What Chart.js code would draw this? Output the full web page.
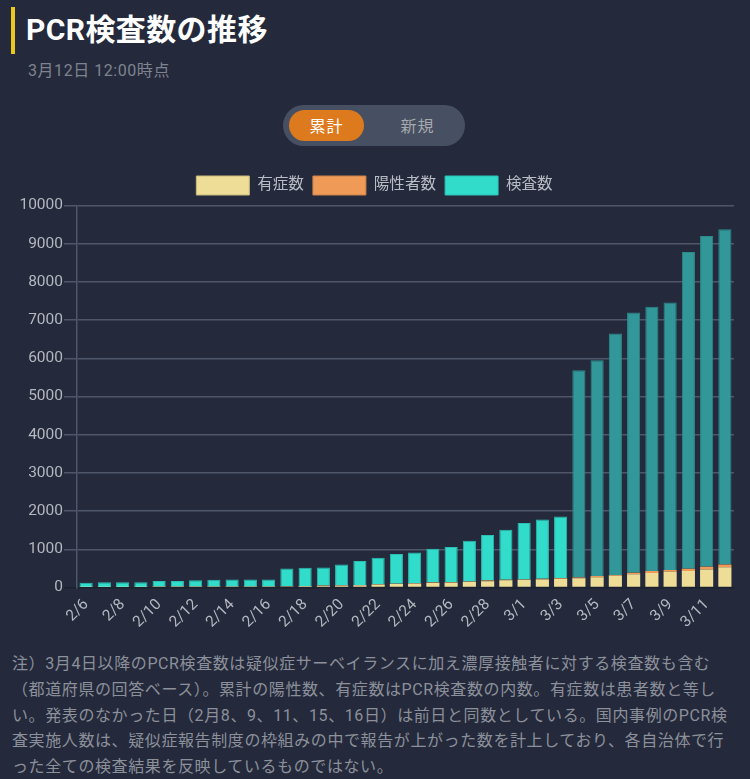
<!DOCTYPE html>
<html lang="ja"><head><meta charset="utf-8">
<script src="https://cdn.jsdelivr.net/npm/chart.js@4"></script>
<style>
html,body{margin:0;padding:0;background:#242a3c;width:750px;height:779px;overflow:hidden;font-family:Roboto,"Noto Sans CJK JP",sans-serif}
.abs{position:absolute;white-space:nowrap}
#bar{left:11px;top:7px;width:4px;height:47px;background:#edc81c}
#title{left:26px;top:10px;font-size:30px;line-height:40px;font-weight:700;color:#fff;letter-spacing:.4px}
#sub{left:28px;top:61px;font-size:16px;line-height:20px;color:#7f838f;letter-spacing:.55px}
#toggle{left:283px;top:105px;width:182px;height:41px;border-radius:21px;background:#474f62}
#on{left:289px;top:111px;width:75px;height:31px;border-radius:16px;color:#fff;font-size:16px;line-height:31px;text-align:center;letter-spacing:1px}
#onbg{left:289px;top:110px;width:75px;height:31px;border-radius:16px;background:#de7a1e}
#off{left:364px;top:111px;width:107px;height:31px;color:#a6a8ad;font-size:16px;line-height:31px;text-align:center;letter-spacing:1px}
#wrap{left:0;top:167px;width:750px;height:470px}
#note{left:12px;top:651px;font-size:16px;line-height:25.8px;color:#8c909a;letter-spacing:.6px}
</style></head><body>
<div class="abs" id="bar"></div>
<div class="abs" id="title">PCR検査数の推移</div>
<div class="abs" id="sub">3月12日 12:00時点</div>
<div class="abs" id="toggle"></div>
<div class="abs" id="onbg"></div>
<div class="abs" id="on">累計</div>
<div class="abs" id="off">新規</div>
<div class="abs" id="wrap"><canvas id="c" width="750" height="470"></canvas></div>
<div class="abs" id="note">注）3月4日以降のPCR検査数は疑似症サーベイランスに加え濃厚接触者に対する検査数も含む<br>（都道府県の回答ベース）。累計の陽性数、有症数はPCR検査数の内数。有症数は患者数と等し<br>い。発表のなかった日（2月8、9、11、15、16日）は前日と同数としている。国内事例のPCR検<br>査実施人数は、疑似症報告制度の枠組みの中で報告が上がった数を計上しており、各自治体で行<br>った全ての検査結果を反映しているものではない。</div>
<script>
const categories=["2/6","2/7","2/8","2/9","2/10","2/11","2/12","2/13","2/14","2/15","2/16","2/17","2/18","2/19","2/20","2/21","2/22","2/23","2/24","2/25","2/26","2/27","2/28","2/29","3/1","3/2","3/3","3/4","3/5","3/6","3/7","3/8","3/9","3/10","3/11","3/12"];
const symptomatic=[12,14,14,14,15,15,15,16,16,16,16,26,36,45,52,60,80,90,105,120,125,150,165,190,200,210,220,245,270,305,350,377,410,430,472,530];
const positive=[14,16,16,16,18,18,18,19,19,19,19,30,40,50,58,66,86,98,112,128,135,160,185,200,210,230,240,262,300,325,385,430,455,490,545,600];
const tested=[125,140,140,140,170,170,190,200,210,210,210,495,520,525,600,695,780,875,915,1015,1060,1225,1375,1515,1690,1780,1860,5690,5950,6650,7200,7350,7460,8780,9200,9380];
const yTicks=[0,1000,2000,3000,4000,5000,6000,7000,8000,9000,10000];
const DIM_FROM=27;
const seg=(a,b)=>a.map((v,i)=>v-b[i]);
const dim=(light,dark)=>c=>c.dataIndex>=DIM_FROM?dark:light;
new Chart(document.getElementById('c'),{
 type:'bar',
 data:{labels:categories,datasets:[
  {label:'有症数',data:symptomatic,backgroundColor:'#eedd97',borderWidth:0},
  {label:'陽性者数',data:seg(positive,symptomatic),backgroundColor:'#ef9a57',borderWidth:0},
  {label:'検査数',data:seg(tested,positive),backgroundColor:dim('#31dccb','#319798'),borderColor:dim('#2bbfb2','#2c8a8b'),borderWidth:{top:1,left:1,right:1,bottom:0}}
 ]},
 plugins:[{id:'legendGap',beforeInit(c){const f=c.legend.fit;c.legend.fit=function(){f.call(this);this.height+=0.5;};}}],
 options:{responsive:false,animation:false,
  layout:{padding:{top:0,right:16,bottom:0,left:15}},
  plugins:{tooltip:{enabled:false},
   legend:{position:'top',labels:{color:'#b9bcc4',boxWidth:53,boxHeight:19,padding:9,font:{size:15.6,family:'Roboto,"Noto Sans CJK JP"'},
     generateLabels(ch){return ch.data.datasets.map((d,i)=>({text:d.label,fillStyle:['#eedd97','#ef9a57','#31dccb'][i],strokeStyle:['#c9b97c','#c9824a','#2bbfb2'][i],lineWidth:1,datasetIndex:i,fontColor:'#b9bcc4'}));}}}},
  scales:{
   x:{stacked:true,grid:{display:false},border:{color:'#1c2130',width:1},
      afterFit(s){s.height=49.5;},
      ticks:{color:'#b4b7bf',autoSkip:false,maxRotation:45,minRotation:45,font:{size:15.5,family:'Roboto'},padding:0,
        callback(v,i){return i%2===0?categories[i]:'';}}},
   y:{stacked:true,min:0,max:10000,
      afterFit(s){s.width=62;},
      afterBuildTicks(s){s.ticks=yTicks.map(v=>({value:v}));},
      grid:{color:c=>c.tick&&c.tick.value===0?'#1c2130':'#50566a',lineWidth:1.5,tickLength:13},border:{color:'#50566a',width:1.5},
      ticks:{color:'#b4b7bf',font:{size:15.5,family:'Roboto'},padding:1,callback:v=>String(v)}}
  }}
});
</script></body></html>
